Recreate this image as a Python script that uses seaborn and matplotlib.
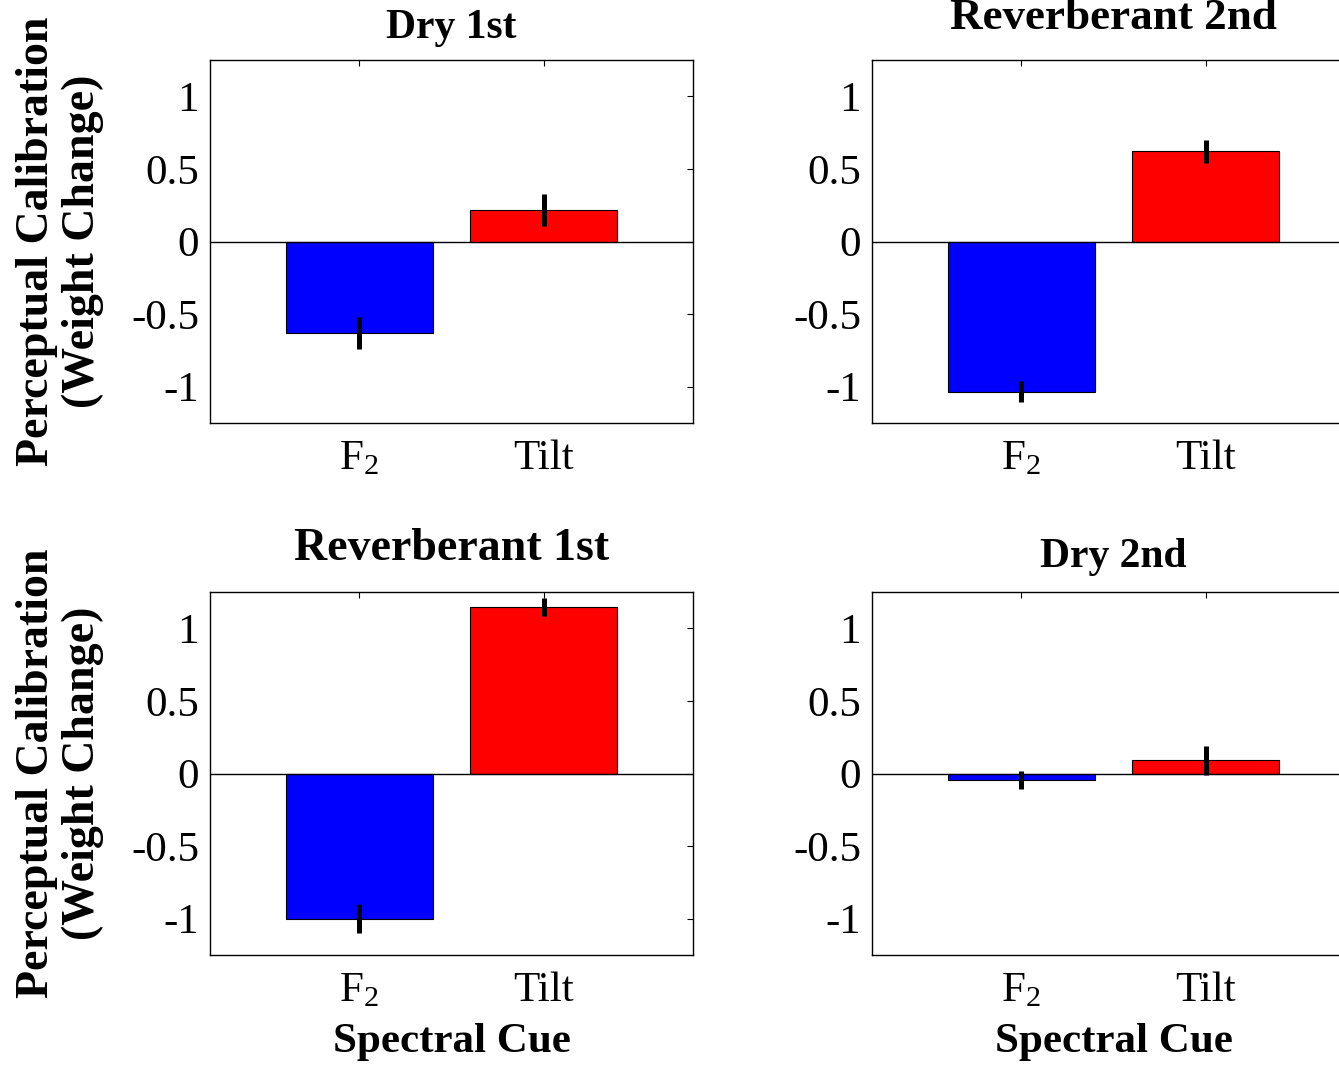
import matplotlib
matplotlib.use("Agg")
import matplotlib.pyplot as plt
import seaborn as sns
import pandas as pd

# Mean weight change per spectral cue and condition, with standard errors
conditions = ["Dry 1st", "Reverberant 2nd", "Reverberant 1st", "Dry 2nd"]
cues = ["F$_2$", "Tilt"]
f2_change = [-0.63, -1.035, -1.00, -0.045]
tilt_change = [0.22, 0.62, 1.145, 0.09]
f2_sem = [0.11, 0.072, 0.10, 0.06]
tilt_sem = [0.11, 0.08, 0.062, 0.10]
y_ticks = [-1, -0.5, 0, 0.5, 1]
y_tick_labels = ["-1", "-0.5", "0", "0.5", "1"]

sns.set_style("white")
plt.rcParams["font.family"] = ["Liberation Serif", "DejaVu Serif"]
plt.rcParams["mathtext.fontset"] = "custom"
plt.rcParams["mathtext.rm"] = "Liberation Serif"
plt.rcParams["mathtext.it"] = "Liberation Serif:italic"
plt.rcParams["mathtext.bf"] = "Liberation Serif:bold"
for key in ["text.color", "axes.labelcolor", "xtick.color", "ytick.color",
            "axes.edgecolor"]:
    plt.rcParams[key] = "black"

W, H = 1339, 1068
fig = plt.figure(figsize=(W / 100, H / 100), dpi=100)

# axes boxes in pixels: left, top, width, height
boxes = [(210, 60, 483, 363), (872, 60, 483, 363),
         (210, 592, 483, 363), (872, 592, 483, 363)]
title_sizes = [30, 32.5, 33, 30]
title_pads = [16, 22, 23, 18]

for i, cond in enumerate(conditions):
    l, t, w, h = boxes[i]
    ax = fig.add_axes([l / W, 1 - (t + h) / H, w / W, h / H])
    df = pd.DataFrame({"cue": cues,
                       "change": [f2_change[i], tilt_change[i]],
                       "sem": [f2_sem[i], tilt_sem[i]]})
    sns.barplot(data=df, x="cue", y="change", hue="cue",
                palette=["#0000ff", "#ff0000"], saturation=1, legend=False,
                width=0.8, edgecolor="black", linewidth=0.8,
                errorbar=None, ax=ax, zorder=2)
    ax.errorbar(x=range(len(df)), y=df["change"], yerr=df["sem"],
                fmt="none", ecolor="black", elinewidth=3.6, capsize=0,
                zorder=3)
    ax.axhline(0, color="black", lw=1.0, zorder=2.5)
    ax.set_xlim(-0.81, 1.81)
    ax.set_ylim(-1.25, 1.25)
    ax.set_yticks(y_ticks)
    ax.set_yticklabels(y_tick_labels)
    ax.tick_params(axis="both", direction="in", length=4, width=0.8,
                   labelsize=31, top=True, right=True, color="black",
                   labelcolor="black")
    ax.tick_params(axis="y", pad=8)
    ax.tick_params(axis="x", pad=12)
    for s in ax.spines.values():
        s.set_visible(True)
        s.set_color("black")
        s.set_linewidth(1.0)
    ax.set_title(cond, fontsize=title_sizes[i], fontweight="bold",
                 pad=title_pads[i], color="black")
    if i % 2 == 0:
        ax.set_ylabel("Perceptual Calibration\n(Weight Change)",
                      fontsize=33, fontweight="bold", linespacing=1.1,
                      color="black")
        ax.yaxis.set_label_coords(-0.22, 0.5)
    else:
        ax.set_ylabel("")
    if i >= 2:
        ax.set_xlabel("Spectral Cue", fontsize=31, fontweight="bold",
                      labelpad=9, color="black")
    else:
        ax.set_xlabel("")

fig.savefig("out.png", dpi=100)
